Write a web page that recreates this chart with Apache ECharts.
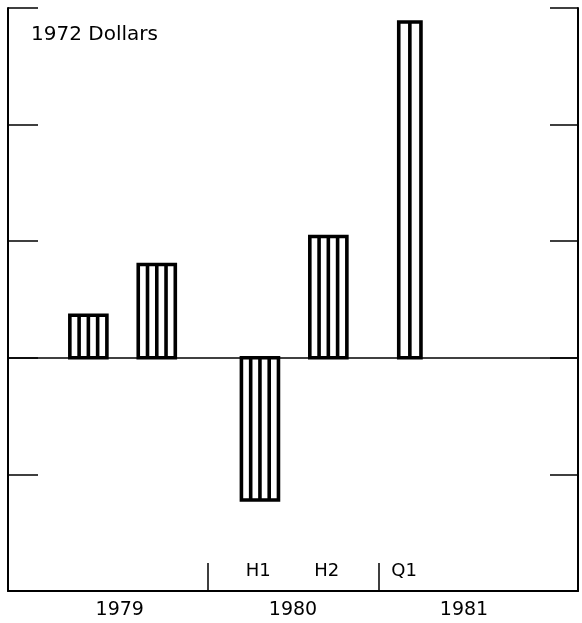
<!DOCTYPE html>
<html>
<head>
<meta charset="utf-8">
<script src="https://cdn.jsdelivr.net/npm/echarts@6/dist/echarts.min.js"></script>
<style>
  html, body { margin: 0; padding: 0; background: #fff; }
  #chart { width: 582px; height: 623px; }
</style>
</head>
<body>
<div id="chart"></div>
<script>
// periods and values (1972 dollars)
const periods = ["1979 H1", "1979 H2", "1980 H1", "1980 H2", "1981 Q1"];
const periodPos = [14.1, 26.1, 44.2, 56.2, 70.5];
const values = [0.365, 0.8, -1.22, 1.04, 2.88];

// bottom labels
const years = ["1979", "1980", "1981"];
const yearPos = [19.6, 50, 80];
const yearBreaks = [35, 65];
const subLabels = ["H1", "H2", "Q1"];
const subPos = [43.9, 55.9, 69.5];

const FONT = "DejaVu Sans";

const chart = echarts.init(document.getElementById("chart"));

function renderBar(params, api) {
  const x = api.value(0);
  const v = api.value(1);
  // quarters are drawn narrower than halves
  const w = periods[params.dataIndex].indexOf("Q") >= 0 ? 3.9 : 6.5;
  const p0 = api.coord([x - w / 2, v]);
  const p1 = api.coord([x + w / 2, 0]);
  const left = p0[0];
  const right = p1[0];
  const top = Math.min(p0[1], p1[1]);
  const bottom = Math.max(p0[1], p1[1]);
  const width = right - left;
  const children = [
    {
      type: "rect",
      shape: { x: left, y: top, width: width, height: bottom - top },
      style: { fill: "#fff", stroke: "#000", lineWidth: 3.6 },
    },
  ];
  const n = Math.floor(width / 9) - 1;
  for (let i = 1; i <= n; i++) {
    const lx = left + (width * i) / (n + 1);
    children.push({
      type: "line",
      shape: { x1: lx, y1: top, x2: lx, y2: bottom },
      style: { stroke: "#000", lineWidth: 3.6 },
    });
  }
  return { type: "group", children: children };
}

chart.setOption({
  animation: false,
  backgroundColor: "#fff",
  title: {
    text: "1972 Dollars",
    left: 31,
    top: 25,
    padding: 0,
    textStyle: { fontFamily: FONT, fontSize: 20, fontWeight: "normal", color: "#000" },
  },
  grid: { left: 8, right: 4, top: 8, bottom: 32, containLabel: false },
  xAxis: [
    {
      type: "value",
      min: 0,
      max: 100,
      position: "bottom",
      axisLine: { onZero: false, lineStyle: { color: "#000", width: 2 } },
      axisTick: {
        inside: true,
        length: 28,
        customValues: yearBreaks,
        lineStyle: { color: "#000", width: 1.5 },
      },
      axisLabel: {
        customValues: yearPos,
        margin: 10,
        color: "#000",
        fontFamily: FONT,
        fontSize: 19,
        formatter: (val) => years[yearPos.indexOf(val)],
      },
      splitLine: { show: false },
    },
    {
      type: "value",
      min: 0,
      max: 100,
      position: "bottom",
      axisLine: { show: false, onZero: false },
      axisTick: { show: false },
      axisLabel: {
        inside: true,
        customValues: subPos,
        margin: 11,
        color: "#000",
        fontFamily: FONT,
        fontSize: 18,
        formatter: (val) => subLabels[subPos.indexOf(val)],
      },
      splitLine: { show: false },
    },
  ],
  yAxis: [
    {
      type: "value",
      min: -2,
      max: 3,
      interval: 1,
      position: "left",
      axisLine: { show: true, onZero: false, lineStyle: { color: "#000", width: 2 } },
      axisTick: { show: true, inside: true, length: 30, lineStyle: { color: "#000", width: 1.5 } },
      axisLabel: { show: false },
      splitLine: { show: false },
    },
    {
      type: "value",
      min: -2,
      max: 3,
      interval: 1,
      position: "right",
      axisLine: { show: true, onZero: false, lineStyle: { color: "#000", width: 2 } },
      axisTick: { show: true, inside: true, length: 28, lineStyle: { color: "#000", width: 1.5 } },
      axisLabel: { show: false },
      splitLine: { show: false },
    },
  ],
  series: [
    {
      type: "custom",
      xAxisIndex: 0,
      yAxisIndex: 0,
      renderItem: renderBar,
      data: periodPos.map((x, i) => [x, values[i]]),
      markLine: {
        silent: true,
        symbol: ["none", "none"],
        label: { show: false },
        lineStyle: { color: "#000", width: 1.5, type: "solid" },
        data: [{ yAxis: 0 }],
      },
    },
  ],
});
</script>
</body>
</html>
